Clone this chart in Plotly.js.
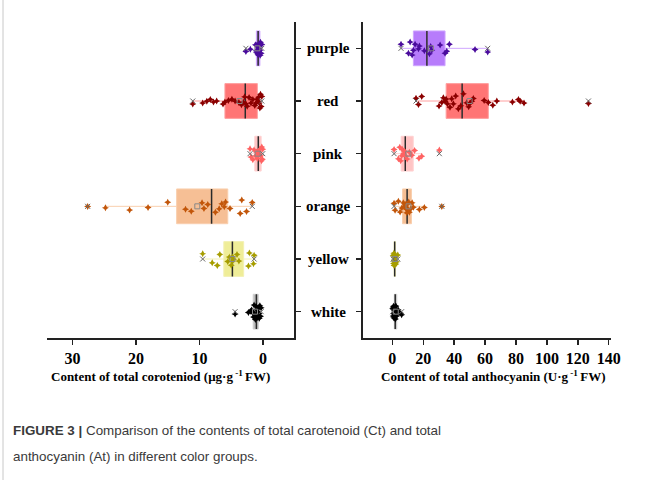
<!DOCTYPE html>
<html><head><meta charset="utf-8">
<script src="https://cdn.plot.ly/plotly-3.0.1.min.js"></script>
<style>html,body{margin:0;padding:0;background:#fff}#chart{width:659px;height:480px}</style>
</head><body><div id="chart"></div>
<script>
// categories, bottom to top
const categories = ['white','yellow','orange','pink','red','purple'];

// Total carotenoid content (µg·g-1 FW)
const ct_purple = [2.7, 2.0, 1.2, 1.1, 1.05, 1.0, 0.95, 0.85, 0.8, 0.75, 0.7, 0.65, 0.6, 0.5, 0.45, 0.4, 0.3, 0.2];
const ct_red    = [0.2, 0.3, 0.4, 0.5, 0.6, 0.7, 0.8, 0.9, 1.1, 1.3, 1.6, 1.9, 2.2, 2.5, 2.7,
                   2.9, 3.1, 3.4, 3.8, 4.4, 4.9, 5.45, 6.0, 6.3, 7.3, 7.8, 8.3, 8.85, 9.5, 11.06];
const ct_pink   = [2.05, 1.9, 1.6, 1.4, 1.2, 1.0, 0.9, 0.8, 0.7, 0.6, 0.5, 0.35, 0.25, 0.2, 0.1, 0.05];
const ct_orange = [27.6, 24.8, 21.0, 18.1, 15.0, 12.2, 11.3, 9.6, 9.3, 8.7, 7.5, 6.9, 6.5, 6.1, 5.9, 5.2, 3.6, 3.35, 2.6, 1.7];
const ct_yellow = [9.5, 8.0, 7.2, 6.8, 5.55, 5.3, 5.0, 4.85, 4.8, 4.65, 4.1, 3.8, 2.3, 2.15, 1.5, 1.4];
const ct_white  = [4.4, 2.3, 2.0, 1.8, 1.7, 1.6, 1.5, 1.45, 1.4, 1.3, 1.2, 1.1, 1.0, 1.0, 0.95, 0.9, 0.85, 0.8, 0.7, 0.65, 0.6, 0.5, 0.4, 0.3];

// Total anthocyanin content (U·g-1 FW)
const at_purple = [5.6, 10.4, 11.5, 12.8, 13.6, 14.7, 16.9, 17.5, 20.7, 24.0, 24.8, 25.5, 30.9, 34.1, 35.2, 36.9, 53.5, 61.7];
const at_red    = [15.3, 16.9, 19.0, 30.2, 32.0, 33.0, 34.1, 34.8, 35.6, 37.3, 38.4, 39.5, 41.0, 42.7, 44.3,
                   46.0, 48.1, 49.4, 50.3, 51.4, 52.4, 59.4, 62.1, 65.0, 67.6, 77.7, 81.6, 82.7, 85.2, 126.9];
const at_pink   = [1.1, 3.9, 4.8, 5.4, 6.0, 6.5, 7.2, 7.9, 8.8, 9.6, 11.0, 12.6, 14.4, 17.2, 19.0, 30.4];
const at_orange = [1.1, 1.75, 3.9, 5.0, 6.1, 7.1, 7.8, 8.2, 8.9, 9.3, 9.8, 10.2, 10.6, 11.0, 11.9, 12.8, 13.6, 17.5, 20.7, 32.0];
const at_yellow = [0.5, 0.8, 1.0, 1.1, 1.2, 1.3, 1.4, 1.5, 1.5, 1.6, 1.7, 1.8, 2.0, 2.3, 2.8, 3.5];
const at_white  = [0.2, 0.5, 0.7, 0.9, 1.0, 1.2, 1.3, 1.4, 1.5, 1.6, 1.7, 1.8, 1.9, 2.0, 2.1, 2.3, 2.5, 2.7, 3.0, 3.3, 3.7, 4.2, 5.0, 6.0];

const ctData = {purple: ct_purple, red: ct_red, pink: ct_pink, orange: ct_orange, yellow: ct_yellow, white: ct_white};
const atData = {purple: at_purple, red: at_red, pink: at_pink, orange: at_orange, yellow: at_yellow, white: at_white};

const boxFill  = {purple:'#b77cfb', red:'#ff7575', pink:'#ffc4c4', orange:'#f6bf95', yellow:'#efed98', white:'#bcbcbc'};
const boxLine  = {purple:'#cfa6ff', red:'#ffa0a0', pink:'#ffd2d2', orange:'#f9cfae', yellow:'#f3f1b4', white:'#d0d0d0'};
const ptColor  = {purple:'#4a0c9c', red:'#8b0000', pink:'#ff6262', orange:'#c2560a', yellow:'#a69d00', white:'#000000'};

const BW = 0.66;
function median(a){const s=[...a].sort((p,q)=>p-q);const n=s.length;return n%2?s[(n-1)/2]:(s[n/2-1]+s[n/2])/2;}
function mean(a){return a.reduce((p,q)=>p+q,0)/a.length;}

const traces = [];
function addGroup(vals, cat, xa, ya){
  const cy = vals.map(()=>cat);
  // box + whiskers (Tukey fences), hidden points
  traces.push({type:'box', orientation:'h', x: vals, y: cy, xaxis: xa, yaxis: ya,
    boxpoints:'outliers', marker:{opacity:0}, fillcolor: boxFill[cat],
    line:{color: boxLine[cat], width:1}, whiskerwidth:0, width:BW, hoverinfo:'skip', showlegend:false});
  // median line
  const m = median(vals);
  traces.push({type:'box', orientation:'h', y:[cat], xaxis: xa, yaxis: ya,
    q1:[m], median:[m], q3:[m], lowerfence:[m], upperfence:[m],
    fillcolor:'rgba(0,0,0,0)', line:{color:'#2a2a2a', width:1.5}, whiskerwidth:0, width:BW,
    boxpoints:false, hoverinfo:'skip', showlegend:false});
  // min / max and mean markers
  traces.push({type:'scatter', mode:'markers', x:[Math.min(...vals), Math.max(...vals)], y:[cat, cat],
    xaxis: xa, yaxis: ya, marker:{symbol:'x-thin-open', size:5, color:'#666', line:{color:'#666', width:1}}, hoverinfo:'skip', showlegend:false});
  traces.push({type:'scatter', mode:'markers', x:[mean(vals)], y:[cat],
    xaxis: xa, yaxis: ya, marker:{symbol:'square-open', size:5, color:'#888', line:{color:'#888', width:1}}, hoverinfo:'skip', showlegend:false});
  // jittered sample points
  traces.push({type:'box', orientation:'h', x: vals, y: cy, xaxis: xa, yaxis: ya,
    boxpoints:'all', jitter:0.5, pointpos:0, fillcolor:'rgba(0,0,0,0)',
    line:{color:'rgba(0,0,0,0)', width:0}, width:BW,
    marker:{symbol:'star-diamond', size:5, color: ptColor[cat]}, showlegend:false});
}
categories.forEach(c=>{ addGroup(ctData[c], c, 'x', 'y'); addGroup(atData[c], c, 'x2', 'y2'); });

const W = 659, H = 480;
const axisFont = {family:'Liberation Serif, Times New Roman, serif', size:16, color:'#000', weight:'bold'};
const yDom = [1-338/H, 1-22/H];
const yCommon = {type:'category', categoryorder:'array', categoryarray: categories, range:[-0.5, 5.5],
  domain: yDom, showline:true, linecolor:'#222', linewidth:1.5, ticks:'outside', ticklen:5, tickwidth:1.5,
  tickcolor:'#222', showticklabels:false, showgrid:false, zeroline:false, fixedrange:true};

const serif = 'Liberation Serif, Times New Roman, serif';
const annotations = categories.map(c=>({xref:'paper', yref:'y', x:328/W, y:c, text:c, showarrow:false,
  xanchor:'center', yanchor:'middle', font:{family:serif, size:15, color:'#000', weight:'bold'}}));
annotations.push({xref:'paper', yref:'paper', x:160/W, y:1-376/H, xanchor:'center', yanchor:'middle', showarrow:false,
  text:'Content of total coroteniod (μg·g<sup> -1 </sup>FW)', font:{family:serif, size:13, color:'#000', weight:'bold'}});
annotations.push({xref:'paper', yref:'paper', x:493.5/W, y:1-376/H, xanchor:'center', yanchor:'middle', showarrow:false,
  text:'Content of total anthocyanin (U·g<sup> -1 </sup>FW)', font:{family:serif, size:13, color:'#000', weight:'bold'}});
const capFont = {family:'Liberation Sans, Arial, sans-serif', size:13.4, color:'#3a3a3a'};
annotations.push({xref:'paper', yref:'paper', x:11/W, y:1-430/H, xanchor:'left', yanchor:'middle', showarrow:false,
  text:'<b>FIGURE 3 |</b> Comparison of the contents of total carotenoid (Ct) and total', font:capFont});
annotations.push({xref:'paper', yref:'paper', x:11/W, y:1-456/H, xanchor:'left', yanchor:'middle', showarrow:false,
  text:'anthocyanin (At) in different color groups.', font:capFont});

const layout = {
  width: W, height: H, margin:{l:0, r:0, t:0, b:0},
  paper_bgcolor:'#fff', plot_bgcolor:'rgba(0,0,0,0)',
  boxmode:'overlay', showlegend:false,
  xaxis:{domain:[47/W, 294/W], range:[34, -4.87], anchor:'y', tickvals:[30,20,10,0], ticktext:['30','20','10','0'],
    showline:true, linecolor:'#222', linewidth:1.5, ticks:'outside', ticklen:5, tickwidth:1.5, tickcolor:'#222',
    tickfont: axisFont, showgrid:false, zeroline:false},
  xaxis2:{domain:[362.7/W, 611/W], range:[-19.2, 141.5], anchor:'y2', tickvals:[0,20,40,60,80,100,120,140],
    showline:true, linecolor:'#222', linewidth:1.5, ticks:'outside', ticklen:5, tickwidth:1.5, tickcolor:'#222',
    tickfont: axisFont, showgrid:false, zeroline:false},
  yaxis: Object.assign({}, yCommon, {anchor:'x', side:'right'}),
  yaxis2: Object.assign({}, yCommon, {anchor:'x2', side:'left'}),
  annotations: annotations,
  shapes:[{type:'line', xref:'paper', yref:'paper', x0:3/W, x1:3/W, y0:0, y1:1, line:{color:'#c8c8c8', width:1}}]
};

Plotly.newPlot('chart', traces, layout, {staticPlot:true, displayModeBar:false});
</script>
</body></html>
